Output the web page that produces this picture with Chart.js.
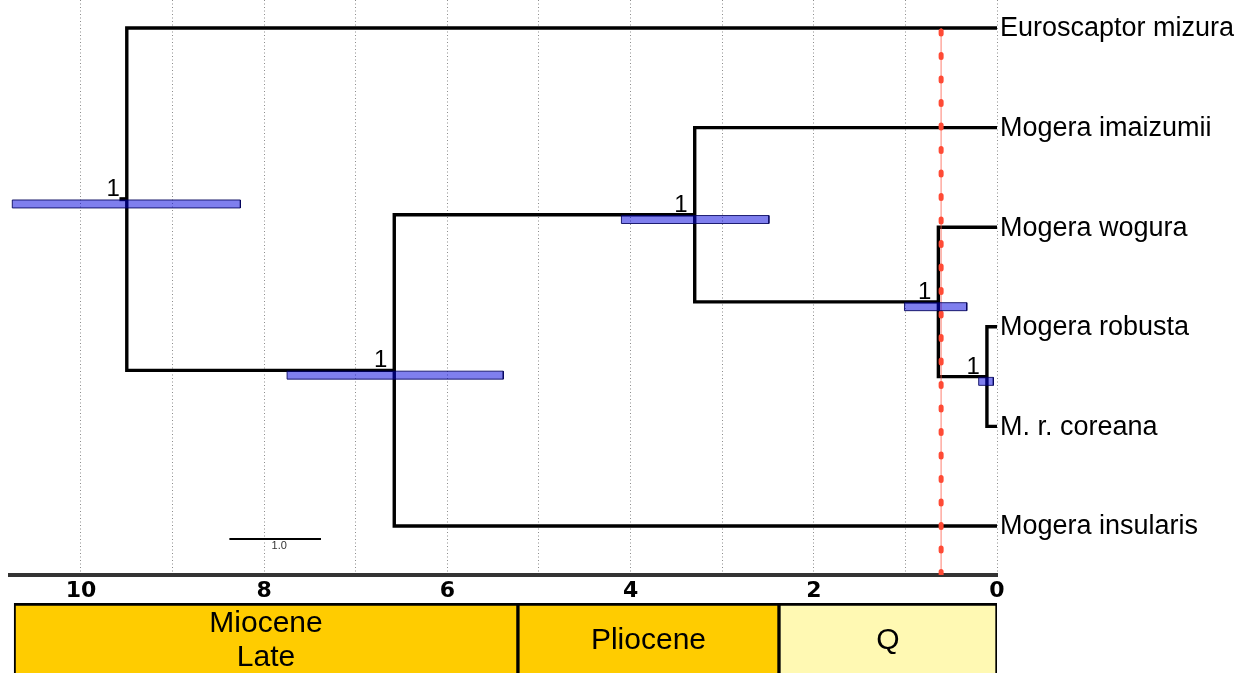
<!doctype html>
<html lang="en">
<head>
<meta charset="UTF-8">
<title>Mogera dated tree</title>
<script src="https://cdn.jsdelivr.net/npm/chart.js"></script>
<style>
  body { margin: 0; background: #fff; overflow: hidden; }
  canvas { display: block; }
</style>
</head>
<body>
<canvas id="treeChart" width="1236" height="603"></canvas>
<canvas id="epochChart" width="1236" height="90"></canvas>
<script>
  // tips, top to bottom
  const tipNames = ['Euroscaptor mizura', 'Mogera imaizumii', 'Mogera wogura', 'Mogera robusta', 'M. r. coreana', 'Mogera insularis'];

  // internal nodes: age (Ma), children ('t' = tip, 'n' = node), posterior, 95% HPD
  const nodeAges = [9.50, 6.58, 3.30, 0.64, 0.11];
  const nodeKids = [['t0', 'n1'], ['n2', 't5'], ['t1', 'n3'], ['t2', 'n4'], ['t3', 't4']];
  const nodeSupport = ['1', '1', '1', '1', '1'];
  const hpdOld = [10.75, 7.75, 4.10, 1.01, 0.20];
  const hpdYoung = [8.26, 5.39, 2.49, 0.33, 0.04];
  const rootStub = 9.58;

  const markerAge = 0.61;      // red dashed line
  const scaleBarFrom = 8.38;
  const scaleBarLength = 1.0;
  const scaleBarRow = 5.13;

  const gridTicks = [0, 1, 2, 3, 4, 5, 6, 7, 8, 9, 10];
  const labelTicks = [0, 2, 4, 6, 8, 10];

  const epochNames = [['Miocene', 'Late'], ['Pliocene'], ['Q']];
  const epochStart = [10.73, 5.23, 2.38];
  const epochEnd = [5.23, 2.38, 0];
  const epochColors = ['#ffcc00', '#ffcc00', '#fff9b3'];

  const X_MAX = 10.775;
  const Y_MIN = -0.281, Y_MAX = 5.492;
  const FONT = '"Liberation Sans", Arial, sans-serif';

  // row of each node = middle of its two children
  const nodeRows = [];
  function rowOf(id) {
    const i = +id.slice(1);
    if (id[0] === 't') return i;
    if (nodeRows[i] === undefined) {
      const r = nodeKids[i].map(rowOf);
      nodeRows[i] = (r[0] + r[1]) / 2;
    }
    return nodeRows[i];
  }
  const ageOf = id => id[0] === 't' ? 0 : nodeAges[+id.slice(1)];
  rowOf('n0');

  const datasets = [];

  // HPD bars, on top
  nodeAges.forEach((a, i) => {
    const y0 = nodeRows[i] + 0.008, y1 = nodeRows[i] + 0.088;
    datasets.push({
      data: [{x: hpdOld[i], y: y0}, {x: hpdYoung[i], y: y0}, {x: hpdYoung[i], y: y1}, {x: hpdOld[i], y: y1}, {x: hpdOld[i], y: y0}],
      borderColor: 'rgba(0,0,90,0.85)',
      borderWidth: 1,
      backgroundColor: 'rgba(0,0,222,0.5)',
      fill: 'shape',
      order: 0
    });
  });

  // red marker line
  datasets.push({
    data: [{x: markerAge, y: 0.03}, {x: markerAge, y: Y_MAX}],
    borderColor: '#ff4a35',
    borderWidth: 5,
    borderCapStyle: 'round',
    borderDash: [3, 20.5],
    order: 1
  });
  datasets.push({
    data: [{x: markerAge, y: 0}, {x: markerAge, y: Y_MAX}],
    borderColor: 'rgba(255,90,70,0.3)',
    borderWidth: 1,
    order: 1
  });

  // tree branches, one elbow per node
  nodeKids.forEach((kids, i) => {
    const [a, b] = kids;
    datasets.push({
      data: [{x: ageOf(a), y: rowOf(a)}, {x: nodeAges[i], y: rowOf(a)}, {x: nodeAges[i], y: rowOf(b)}, {x: ageOf(b), y: rowOf(b)}],
      borderColor: '#000',
      borderWidth: 3.4,
      borderJoinStyle: 'miter',
      order: 2
    });
  });
  datasets.push({
    data: [{x: rootStub, y: nodeRows[0]}, {x: nodeAges[0], y: nodeRows[0]}],
    borderColor: '#000',
    borderWidth: 4,
    order: 2
  });

  // scale bar
  datasets.push({
    data: [{x: scaleBarFrom, y: scaleBarRow}, {x: scaleBarFrom - scaleBarLength, y: scaleBarRow}],
    borderColor: '#000',
    borderWidth: 2,
    order: 2
  });

  datasets.forEach(d => { d.showLine = true; d.pointRadius = 0; });

  const treeText = {
    id: 'treeText',
    afterDatasetsDraw(chart) {
      const {ctx, scales: {x, y}} = chart;
      ctx.save();
      ctx.fillStyle = '#000';
      ctx.font = '27px ' + FONT;
      ctx.textAlign = 'left';
      ctx.textBaseline = 'middle';
      tipNames.forEach((name, i) => ctx.fillText(name, x.getPixelForValue(0) + 3, y.getPixelForValue(i) + 1));

      ctx.font = '24px ' + FONT;
      ctx.textAlign = 'right';
      ctx.textBaseline = 'alphabetic';
      nodeSupport.forEach((s, i) => ctx.fillText(s, x.getPixelForValue(nodeAges[i]) - 7, y.getPixelForValue(nodeRows[i]) - 3));

      ctx.font = '11px ' + FONT;
      ctx.fillStyle = '#333';
      ctx.textAlign = 'center';
      ctx.textBaseline = 'top';
      ctx.fillText(scaleBarLength.toFixed(1), x.getPixelForValue(scaleBarFrom - scaleBarLength / 2) + 4, y.getPixelForValue(scaleBarRow) + 2);
      ctx.restore();
    }
  };

  new Chart(document.getElementById('treeChart'), {
    type: 'scatter',
    data: { datasets: datasets },
    options: {
      responsive: false,
      animation: false,
      devicePixelRatio: 1,
      layout: { padding: { left: 10, right: 239, top: 0, bottom: 0 } },
      plugins: { legend: { display: false }, tooltip: { enabled: false } },
      scales: {
        x: {
          type: 'linear',
          reverse: true,
          min: 0,
          max: X_MAX,
          afterBuildTicks: s => { s.ticks = gridTicks.map(v => ({value: v})); },
          afterFit: s => { s.height = 28; },
          ticks: {
            autoSkip: false,
            maxRotation: 0,
            padding: 3,
            color: '#000',
            font: { size: 22, weight: 'bold', family: '"DejaVu Sans", sans-serif' },
            callback: v => labelTicks.includes(v) ? String(v) : ''
          },
          grid: { color: '#8c8c8c', lineWidth: 1, drawTicks: false },
          border: { display: true, color: '#333', width: 4, dash: [1, 2.5] }
        },
        y: { type: 'linear', display: false, reverse: true, min: Y_MIN, max: Y_MAX }
      }
    },
    plugins: [treeText]
  });

  const epochText = {
    id: 'epochText',
    afterDatasetsDraw(chart) {
      const {ctx, scales: {x}, chartArea} = chart;
      ctx.save();
      ctx.fillStyle = '#000';
      ctx.font = '30px ' + FONT;
      ctx.textAlign = 'center';
      ctx.textBaseline = 'middle';
      epochNames.forEach((lines, i) => {
        const cx = (x.getPixelForValue(epochStart[i]) + x.getPixelForValue(epochEnd[i])) / 2;
        lines.forEach((t, k) => ctx.fillText(t, cx, chartArea.top + 37.5 + (k - (lines.length - 1) / 2) * 34));
      });
      ctx.restore();
    }
  };

  new Chart(document.getElementById('epochChart'), {
    type: 'bar',
    data: {
      labels: ['epoch'],
      datasets: epochNames.map((n, i) => ({
        label: n.join(' '),
        data: [[epochStart[i], epochEnd[i]]],
        backgroundColor: epochColors[i],
        borderColor: '#000',
        borderWidth: { top: 3, left: 2, right: 2, bottom: 2 },
        borderSkipped: false,
        grouped: false,
        barPercentage: 1,
        categoryPercentage: 1
      }))
    },
    options: {
      indexAxis: 'y',
      responsive: false,
      animation: false,
      devicePixelRatio: 1,
      layout: { padding: { left: 10, right: 239, top: 0, bottom: 0 } },
      plugins: { legend: { display: false }, tooltip: { enabled: false } },
      scales: {
        x: { type: 'linear', display: false, reverse: true, min: 0, max: X_MAX },
        y: { display: false }
      }
    },
    plugins: [epochText]
  });
</script>
</body>
</html>
